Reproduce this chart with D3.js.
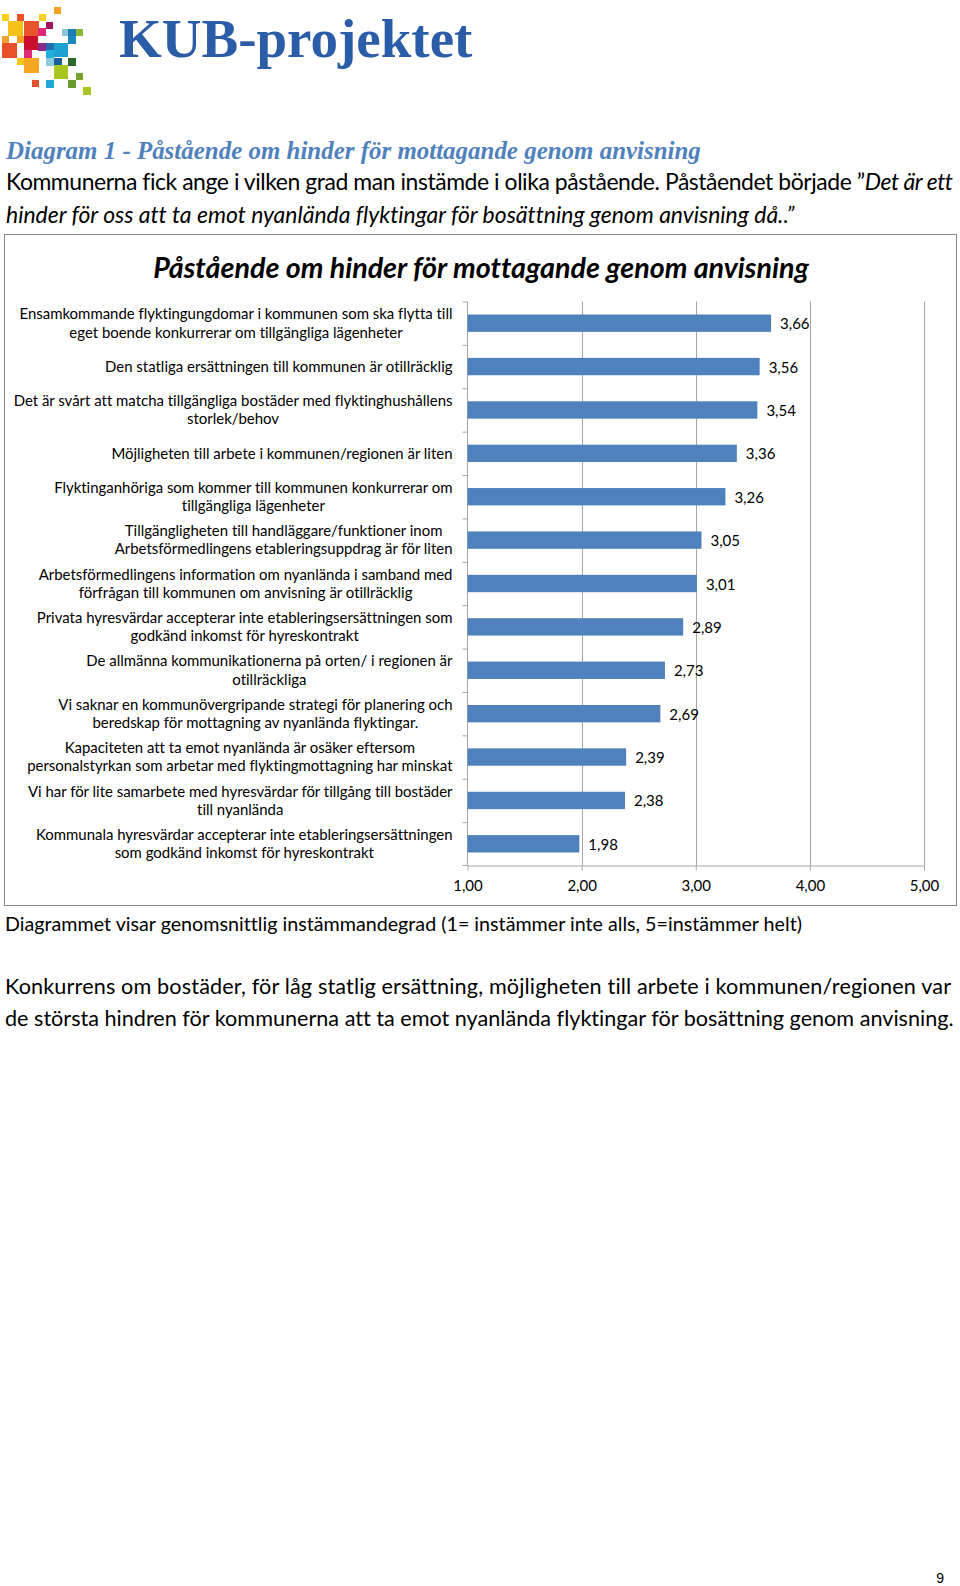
<!DOCTYPE html>
<html>
<head>
<meta charset="utf-8">
<script src="https://cdn.jsdelivr.net/npm/d3@7"></script>
<style>
  body { margin: 0; background: #fff; }
  svg { display: block; }
  text { font-variant-ligatures: none; font-feature-settings: "liga" 0, "clig" 0; }
</style>
</head>
<body>
<svg id="page" width="960" height="1586"></svg>
<script>
// statements (each one split in the lines shown under the axis)
const statements = [
  ["Ensamkommande flyktingungdomar i kommunen som ska flytta till", "eget boende konkurrerar om tillgängliga lägenheter"],
  ["Den statliga ersättningen till kommunen är otillräcklig"],
  ["Det är svårt att matcha tillgängliga bostäder med flyktinghushållens", "storlek/behov"],
  ["Möjligheten till arbete i kommunen/regionen är liten"],
  ["Flyktinganhöriga som kommer till kommunen konkurrerar om", "tillgängliga lägenheter"],
  ["Tillgängligheten till handläggare/funktioner inom", "Arbetsförmedlingens etableringsuppdrag är för liten"],
  ["Arbetsförmedlingens information om nyanlända i samband med", "förfrågan till kommunen om anvisning är otillräcklig"],
  ["Privata hyresvärdar accepterar inte etableringsersättningen som", "godkänd inkomst för hyreskontrakt"],
  ["De allmänna kommunikationerna på orten/ i regionen är", "otillräckliga"],
  ["Vi saknar en kommunövergripande strategi för planering och", "beredskap för mottagning av nyanlända flyktingar."],
  ["Kapaciteten att ta emot nyanlända är osäker eftersom", "personalstyrkan som arbetar med flyktingmottagning har minskat"],
  ["Vi har för lite samarbete med hyresvärdar för tillgång till bostäder", "till nyanlända"],
  ["Kommunala hyresvärdar accepterar inte etableringsersättningen", "som godkänd inkomst för hyreskontrakt"]
];
const means = [3.66, 3.56, 3.54, 3.36, 3.26, 3.05, 3.01, 2.89, 2.73, 2.69, 2.39, 2.38, 1.98];
const xTicks = [1, 2, 3, 4, 5];

// logo squares: [x, y, size, colour]
const logoSquares = [
  [54, 7, 7, "#f4a21f"], [2, 14, 7, "#f7d21c"], [17, 14, 7, "#e8532b"], [39, 14, 7, "#f5d327"],
  [46, 22, 7, "#a0195d"], [8, 21, 15, "#f6c219"], [24, 21, 15, "#e8552a"], [38, 28, 8, "#e0267a"],
  [62, 29, 7, "#8cc5d8"], [68, 29, 8, "#1a7db5"], [76, 29, 7, "#8ab833"], [2, 36, 7, "#f0a030"],
  [17, 36, 7, "#f5a020"], [24, 36, 14, "#c8102e"], [68, 36, 8, "#1a8bc0"], [2, 43, 15, "#e8502a"],
  [38, 43, 8, "#8a2a8a"], [46, 43, 8, "#1f6fb0"], [54, 43, 14, "#1da1d0"], [24, 50, 8, "#e02a7a"],
  [46, 50, 8, "#21b0d8"], [17, 58, 7, "#f5c518"], [24, 58, 15, "#f5a623"], [46, 58, 8, "#8ccbe0"],
  [54, 58, 8, "#1a5fa0"], [68, 58, 8, "#2a6a2a"], [54, 65, 14, "#a8c520"], [76, 73, 7, "#7aa030"],
  [32, 80, 7, "#e05530"], [46, 80, 8, "#20a8d8"], [68, 80, 8, "#6a9a30"], [83, 87, 8, "#a8c520"]
];

const sans = "Lato, 'Open Sans', sans-serif";
const serif = "'Liberation Serif', 'DejaVu Serif', serif";
const svg = d3.select("#page");
svg.append("rect").attr("width", 960).attr("height", 1586).attr("fill", "#fff");

// scale a text's font so that it gets a given width
function fitFont(sel, width) {
  const fs = parseFloat(sel.attr("font-size"));
  const len = sel.node().getComputedTextLength();
  sel.attr("font-size", (fs * width / len).toFixed(2));
  return fs * width / len;
}

// ---- header
svg.append("g").selectAll("rect").data(logoSquares).join("rect")
  .attr("x", d => d[0]).attr("y", d => d[1])
  .attr("width", d => d[2]).attr("height", d => d[2])
  .attr("fill", d => d[3]);

svg.append("text").attr("x", 119).attr("y", 57)
  .attr("font-family", serif).attr("font-weight", "bold").attr("font-size", 55)
  .attr("fill", "#2b5ca8").text("KUB-projektet");

const heading = svg.append("text").attr("x", 6).attr("y", 159)
  .attr("font-family", serif).attr("font-weight", "bold").attr("font-style", "italic")
  .attr("font-size", 22).attr("fill", "#4f81bd")
  .text("Diagram 1 - Påstående om hinder för mottagande genom anvisning");
fitFont(heading, 695);

const intro1 = svg.append("text").attr("x", 6).attr("y", 190)
  .attr("font-family", sans).attr("font-size", 18).attr("fill", "#000");
intro1.append("tspan").text("Kommunerna fick ange i vilken grad man instämde i olika påstående. Påståendet började ”");
intro1.append("tspan").attr("font-style", "italic").text("Det är ett");
const intro2 = svg.append("text").attr("x", 6).attr("y", 223)
  .attr("font-family", sans).attr("font-size", 18).attr("font-style", "italic").attr("fill", "#000")
  .text("hinder för oss att ta emot nyanlända flyktingar för bosättning genom anvisning då..”");
const introSize = fitFont(intro2, 789);
intro1.attr("font-size", introSize.toFixed(2)).attr("textLength", 947).attr("lengthAdjust", "spacing");

// ---- chart frame
svg.append("rect").attr("x", 4.5).attr("y", 234.5).attr("width", 952).attr("height", 671)
  .attr("fill", "#fff").attr("stroke", "#868686");

const title = svg.append("text").attr("x", 481).attr("y", 278).attr("text-anchor", "middle")
  .attr("font-family", sans).attr("font-weight", "bold").attr("font-style", "italic")
  .attr("font-size", 26).attr("fill", "#000")
  .text("Påstående om hinder för mottagande genom anvisning");
fitFont(title, 656);

const x = d3.scaleLinear().domain([1, 5]).range([467.5, 924]);
const y = d3.scaleBand().domain(d3.range(statements.length)).range([301.5, 865.5]).paddingInner(0.6).paddingOuter(0.3);
const band = d3.scaleBand().domain(d3.range(statements.length)).range([301.5, 865.5]);

// vertical gridlines
svg.append("g").selectAll("line").data(xTicks.slice(1)).join("line")
  .attr("x1", d => Math.round(x(d)) + 0.5).attr("x2", d => Math.round(x(d)) + 0.5)
  .attr("y1", 301.5).attr("y2", 865.5)
  .attr("stroke", "#a6a6a6");

// bottom axis
const xAxis = svg.append("g").attr("transform", "translate(0,865.5)")
  .call(d3.axisBottom(x).tickValues(xTicks).tickSize(5).tickSizeOuter(0)
    .tickFormat(d => d3.format(".2f")(d).replace(".", ",")));
xAxis.select(".domain").attr("stroke", "#a6a6a6");
xAxis.selectAll(".tick line").attr("stroke", "#a6a6a6");
xAxis.selectAll(".tick text").attr("font-family", sans).attr("font-size", 15)
  .attr("fill", "#000").attr("y", 15);

// left axis with ticks between categories
svg.append("line").attr("x1", 467.5).attr("x2", 467.5).attr("y1", 301.5).attr("y2", 865.5)
  .attr("stroke", "#a6a6a6");
svg.append("g").selectAll("line").data(d3.range(statements.length + 1)).join("line")
  .attr("x1", 462.5).attr("x2", 467.5)
  .attr("y1", d => d === statements.length ? 865.5 : band(d) + 0.5)
  .attr("y2", d => d === statements.length ? 865.5 : band(d) + 0.5)
  .attr("stroke", "#a6a6a6");

// bars
svg.append("g").selectAll("rect").data(means).join("rect")
  .attr("x", x(1)).attr("y", (d, i) => y(i))
  .attr("width", d => x(d) - x(1)).attr("height", y.bandwidth())
  .attr("fill", "#4f81bd");

// value labels
svg.append("g").selectAll("text").data(means).join("text")
  .attr("x", d => x(d) + 9)
  .attr("y", (d, i) => y(i) + y.bandwidth() / 2 + 6)
  .attr("font-family", sans).attr("font-size", 15).attr("fill", "#000")
  .text(d => d3.format(".2f")(d).replace(".", ","));

// category labels: lines centred in a block whose right edge is fixed
const probe = svg.append("text").attr("font-family", sans).attr("font-size", 15)
  .text(statements[0][0]);
const labelSize = 15 * 433 / probe.node().getComputedTextLength();
probe.remove();
const labelRight = 452.5;
const lineGap = 18.3;
const labels = svg.append("g").attr("font-family", sans).attr("font-size", labelSize.toFixed(2)).attr("fill", "#000");
statements.forEach((lines, i) => {
  const t = labels.append("text").attr("text-anchor", "middle");
  const cy = band(i) + band.bandwidth() / 2;
  const spans = lines.map((ln, k) => t.append("tspan")
    .attr("y", cy + (k - (lines.length - 1) / 2) * lineGap + labelSize * 0.35)
    .text(ln));
  const w = d3.max(spans, s => s.node().getComputedTextLength());
  spans.forEach(s => s.attr("x", labelRight - w / 2));
});

// ---- text under the chart
const note = svg.append("text").attr("x", 5).attr("y", 931)
  .attr("font-family", sans).attr("font-size", 18).attr("fill", "#000")
  .text("Diagrammet visar genomsnittlig instämmandegrad (1= instämmer inte alls, 5=instämmer helt)");
fitFont(note, 797);

const concl1 = svg.append("text").attr("x", 5).attr("y", 994)
  .attr("font-family", sans).attr("font-size", 19).attr("fill", "#000")
  .text("Konkurrens om bostäder, för låg statlig ersättning, möjligheten till arbete i kommunen/regionen var");
const concl2 = svg.append("text").attr("x", 5).attr("y", 1026)
  .attr("font-family", sans).attr("font-size", 19).attr("fill", "#000")
  .text("de största hindren för kommunerna att ta emot nyanlända flyktingar för bosättning genom anvisning.");
const conclSize = fitFont(concl2, 949);
concl1.attr("font-size", conclSize.toFixed(2)).attr("textLength", 946).attr("lengthAdjust", "spacing");

svg.append("text").attr("x", 944).attr("y", 1583).attr("text-anchor", "end")
  .attr("font-family", "'Liberation Sans', Arial, sans-serif").attr("font-size", 14).attr("fill", "#000")
  .text("9");
</script>
</body>
</html>
